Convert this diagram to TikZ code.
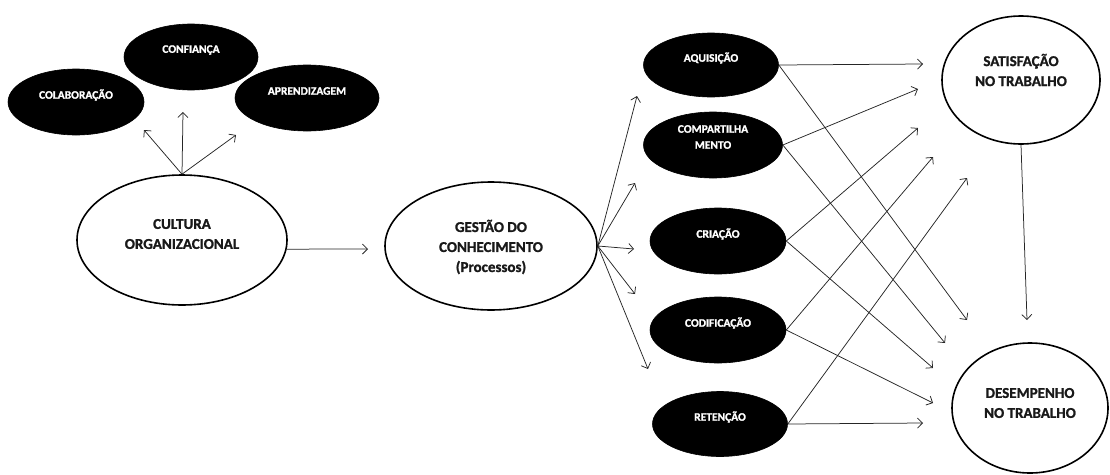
\documentclass[tikz,border=0pt]{standalone}
\usepackage{fontspec}
\IfFontExistsTF{Carlito Bold}
  {\setmainfont{Carlito}[BoldFont={Carlito Bold},BoldFeatures={FakeBold=1.2}]}
  {\setmainfont{Carlito}[AutoFakeBold=2.5]}
\usetikzlibrary{shapes.geometric,arrows.meta}
\begin{document}
\begin{tikzpicture}[x=1pt,y=-1pt,
  bubble/.style={ellipse,draw=black,line width=1.6pt,fill=white,inner sep=0pt},
  blob/.style={ellipse,fill=black,draw=black,line width=0.6pt,inner sep=0pt},
  bigtxt/.style={font=\fontsize{15}{20}\selectfont\bfseries,align=center,text=black!90,inner sep=0pt},
  smalltxt/.style={font=\fontsize{11.5}{16}\selectfont\bfseries,align=center,text=white,inner sep=0pt},
  link/.style={line width=0.75pt,draw=black!85,-{Straight Barb[length=5pt,width=10pt]}}]
\useasboundingbox (0,0) rectangle (1110,474);

% cultural factors
\node[blob,minimum width=136pt,minimum height=66pt] (colab) at (76,102) {};
\node[blob,minimum width=134pt,minimum height=66pt] (conf) at (191,57) {};
\node[blob,minimum width=144pt,minimum height=66pt] (apr) at (307,98) {};
\node[smalltxt] at ([yshift=7pt]colab.center) {COLABORAÇÃO};
\node[smalltxt] at ([yshift=7pt]conf.center) {CONFIANÇA};
\node[smalltxt] at ([yshift=7pt]apr.center) {APRENDIZAGEM};

% main constructs
\node[bubble,minimum width=210pt,minimum height=130pt] (cul) at (182,240) {};
\node[bigtxt] at ([yshift=6pt]cul.center) {CULTURA\\ORGANIZACIONAL};
\node[bubble,minimum width=212pt,minimum height=128pt] (ges) at (491,246) {};
\node[bigtxt] at ([yshift=-1pt]ges.center) {GESTÃO DO\\CONHECIMENTO\\(Processos)};

% knowledge processes
\node[blob,minimum width=135pt,minimum height=64pt] (aq) at (711,65) {};
\node[blob,minimum width=139pt,minimum height=66pt] (comp) at (713,145) {};
\node[blob,minimum width=136pt,minimum height=66pt] (cri) at (718,241) {};
\node[blob,minimum width=136pt,minimum height=66pt] (cod) at (718,330) {};
\node[blob,minimum width=135pt,minimum height=65pt] (ret) at (720,424) {};
\node[smalltxt] at ([yshift=7pt]aq.center) {AQUISIÇÃO};
\node[smalltxt] at ([yshift=8pt]comp.center) {COMPARTILHA\\MENTO};
\node[smalltxt] at ([yshift=7pt]cri.center) {CRIAÇÃO};
\node[smalltxt] at ([yshift=7pt]cod.center) {CODIFICAÇÃO};
\node[smalltxt] at ([yshift=7pt]ret.center) {RETENÇÃO};

% outcomes
\node[bubble,minimum width=158pt,minimum height=128pt] (sat) at (1021,80) {};
\node[bigtxt] at ([yshift=10pt]sat.center) {SATISFAÇÃO\\NO TRABALHO};
\node[bubble,minimum width=156pt,minimum height=130pt] (des) at (1030,408) {};
\node[bigtxt] at ([yshift=5pt]des.center) {DESEMPENHO\\NO TRABALHO};

% free arrow ends
\coordinate (c1) at (144,130);
\coordinate (c2) at (183,112);
\coordinate (c3) at (236,135);
\coordinate (g0) at (368,249);
\coordinate (g1) at (637,96);
\coordinate (g2) at (635,183);
\coordinate (g3) at (634,249);
\coordinate (g4) at (635,294);
\coordinate (g5) at (648,369);
\coordinate (s1) at (923,64);
\coordinate (s2) at (918,89);
\coordinate (s3) at (918,128);
\coordinate (s4) at (933,157);
\coordinate (s5) at (967,178);
\coordinate (d1) at (967,320);
\coordinate (d2) at (945,343);
\coordinate (d3) at (933,368);
\coordinate (d4) at (933,403);
\coordinate (d5) at (923,423);
\coordinate (sd) at (1027,320);

% connectors
\draw[link] (cul.north) -- (c1);
\draw[link] (cul.north) -- (c2);
\draw[link] (cul.north) -- (c3);
\draw[link] (cul.-5) -- (g0);
\foreach \t in {g1,g2,g3,g4,g5} \draw[link] (ges.east) -- (\t);
\draw[link] (aq.east) -- (s1);
\draw[link] (aq.east) -- (d1);
\draw[link] (comp.east) -- (s2);
\draw[link] (comp.east) -- (d2);
\draw[link] (cri.east) -- (s3);
\draw[link] (cri.east) -- (d3);
\draw[link] (cod.east) -- (s4);
\draw[link] (cod.east) -- (d4);
\draw[link] (ret.east) -- (s5);
\draw[link] (ret.east) -- (d5);
\draw[link] (sat.south) -- (sd);
\end{tikzpicture}
\end{document}
